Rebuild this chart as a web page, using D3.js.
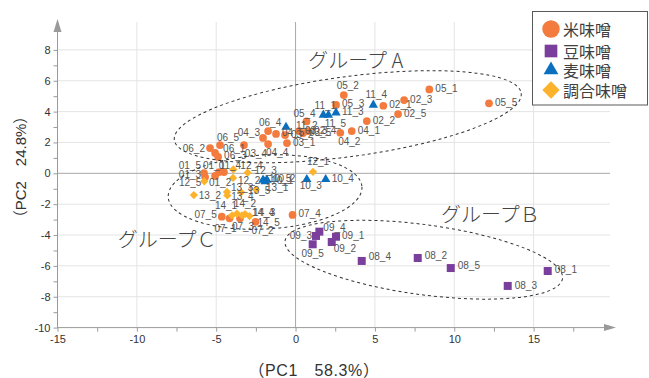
<!DOCTYPE html>
<html><head><meta charset="utf-8">
<script src="https://cdn.jsdelivr.net/npm/d3@7"></script>
<style>body{margin:0;background:#fff}svg{display:block}</style>
</head><body><svg id="c" width="649" height="378"></svg>
<script>
// ---- data ----
const categories = ["米味噌", "豆味噌", "麦味噌", "調合味噌"];
const rice = [
  ["01_1",-4.82,0.08],["01_2",-5.07,-0.17],["01_3",-5.70,-0.24],["01_4",-4.51,0.08],["01_5",-5.77,0.02],
  ["02_1",5.53,4.38],["02_2",4.49,3.39],["02_3",6.84,4.75],["02_4",0.79,2.74],["02_5",6.46,3.84],
  ["03_1",-0.54,1.96],["03_2",-0.66,2.48],["03_3",0.22,2.74],["03_4",-3.25,1.83],["03_5",0.47,2.61],
  ["04_1",3.54,2.74],["04_2",2.82,2.63],["04_3",-2.05,2.29],["04_4",-1.73,1.90],["04_5",-1.23,2.55],
  ["05_1",8.43,5.44],["05_2",3.04,5.07],["05_3",2.55,4.43],["05_4",0.69,3.36],["05_5",12.19,4.54],
  ["06_1",-5.07,1.32],["06_2",-5.39,1.64],["06_3",-4.88,1.06],["06_4",-1.73,2.74],["06_5",-4.76,1.83],
  ["07_1",-4.16,-2.92],["07_2",-2.52,-3.14],["07_3",-3.50,-2.92],["07_4",-0.19,-2.70],["07_5",-4.65,-2.81]
];
const soy = [
  ["08_1",15.89,-6.33],["08_2",7.70,-5.49],["08_3",13.37,-7.30],["08_4",4.17,-5.68],["08_5",9.78,-6.14],
  ["09_1",2.55,-4.11],["09_2",2.28,-4.45],["09_3",1.29,-4.06],["09_4",1.50,-3.78],["09_5",1.08,-4.60]
];
const barley = [
  ["10_1",-1.92,-0.53],["10_2",-1.80,-0.43],["10_3",0.71,-0.39],["10_4",1.90,-0.39],["10_5",-2.05,-0.43],
  ["11_1",1.75,3.78],["11_2",-0.60,3.00],["11_3",2.55,3.93],["11_4",4.90,4.43],["11_5",2.07,3.78]
];
const mixed = [
  ["12_1",1.10,0.10],["12_2",-3.94,-0.30],["12_3",-3.02,0.04],["12_4",-3.92,0.25],["12_5",-5.75,-0.52],
  ["13_1",-2.49,-1.05],["13_2",-6.41,-1.41],["13_3",-4.32,-1.21],["13_4",-4.30,-1.43],["13_5",-3.43,-1.23],
  ["14_1",-4.00,-2.73],["14_2",-3.69,-2.61],["14_3",-3.18,-2.64],["14_4",-3.37,-2.73],["14_5",-2.90,-2.77]
];
const xTickLabels = [-15,-10,-5,0,5,10,15];
const yTickLabels = [-10,-8,-6,-4,-2,0,2,4,6,8];
const xTitle = "（PC1　58.3%）";
const yTitle = "（PC2　24.8%）";
const groupNames = ["グループ A", "グループＢ", "グループＣ"];
// group ellipse centres (PC1, PC2) and group label anchors (PC1, PC2)
const groupCenters = [[3.29,3.67],[8.08,-5.60],[-1.92,-1.21]];
const groupLabelAt = [[0.8,7.3],[9.17,-2.7],[-11.2,-4.32]];

// ---- layout (pixels) ----
const ellipseShape = [[175,40,-7.7],[140,35,7.7],[97,37,-3]]; // rx, ry, angle
const labelOffset = {
  "05_2":[4,-10,"middle"],"04_2":[9,9,"middle"],"11_4":[3,-10,"middle"],"11_1":[2,-10,"middle"],
  "11_5":[7,8,"middle"],"05_4":[-2,-8,"middle"],"11_2":[10,-2,"start"],"06_4":[2,-9,"middle"],
  "04_3":[-3,-5,"end"],"03_4":[12,8,"middle"],"04_4":[9,8,"middle"],"06_5":[8,-8,"middle"],
  "06_2":[-5,0,"end"],"06_1":[8,-4,"start"],"01_5":[-3,-8,"end"],"01_3":[-4,-3,"end"],
  "01_1":[-5,-7,"middle"],"01_4":[6,-7,"middle"],"01_2":[5,7,"middle"],"12_5":[-3,1,"end"],
  "12_4":[7,-4,"start"],"12_3":[7,-2,"start"],"12_2":[5,3,"start"],"12_1":[5,-10,"middle"],
  "10_3":[4,6,"middle"],"13_2":[5,0,"start"],"13_3":[4,-4,"start"],"13_4":[4,1,"start"],
  "13_5":[7,-2,"start"],"13_1":[10,-2,"start"],"14_1":[-6,-10,"middle"],"14_2":[8,-10,"middle"],
  "14_4":[10,-3,"start"],"14_3":[8,-2,"start"],"14_5":[8,6,"start"],"07_5":[-5,-2,"end"],
  "07_1":[-4,10,"middle"],"07_3":[3,8,"middle"],"07_2":[7,9,"middle"],"09_4":[4,-4,"start"],
  "09_3":[-4,0,"end"],"09_2":[2,6.5,"start"],"09_5":[0,9,"middle"],"08_1":[7,-1,"start"],
  "08_2":[7,-3,"start"],"08_4":[7,-4,"start"],"08_5":[7,-3,"start"],"08_3":[7,0,"start"]
};
const colors = ["#F47B3E","#7A3F9D","#0A6FBE","#FDB22B"];

const svg = d3.select("#c");
const x = d3.scaleLinear().domain([-15,15]).range([57.5,533.6]);
const y = d3.scaleLinear().domain([-10,8]).range([327.6,49.9]);
const xRight = 610, yTop = 22;
const gridC = "#e4e4e4", axC = "#9a9a9a";

// grid
svg.append("g").selectAll("line").data(d3.range(-8,9,2).filter(v=>v!==0)).join("line")
  .attr("x1",x(-15)).attr("x2",xRight).attr("y1",d=>y(d)).attr("y2",d=>y(d))
  .attr("stroke",gridC).attr("stroke-width",1);
svg.append("g").selectAll("line").data([-10,-5,5,10,15]).join("line")
  .attr("y1",y(-10)).attr("y2",yTop).attr("x1",d=>x(d)).attr("x2",d=>x(d))
  .attr("stroke",gridC).attr("stroke-width",1);
// zero lines
svg.append("line").attr("x1",x(-15)).attr("x2",xRight).attr("y1",y(0)).attr("y2",y(0)).attr("stroke","#a8a8a8");
svg.append("line").attr("x1",x(0)).attr("x2",x(0)).attr("y1",y(-10)).attr("y2",yTop).attr("stroke","#a8a8a8");

// axes
const fmtX = d => xTickLabels.includes(d) ? String(d) : "";
const fmtY = d => yTickLabels.includes(d) ? String(d) : "";
const gx = svg.append("g").attr("transform",`translate(0,${y(-10)})`)
  .call(d3.axisBottom(x).tickValues(d3.range(-15,17.6,2.5)).tickFormat(fmtX).tickSize(4).tickPadding(4));
const gy = svg.append("g").attr("transform",`translate(${x(-15)},0)`)
  .call(d3.axisLeft(y).tickValues(d3.range(-10,8.1,1)).tickFormat(fmtY).tickSize(4).tickPadding(3));
[gx,gy].forEach(g=>{
  g.select(".domain").remove();
  g.selectAll(".tick line").attr("stroke",axC);
  g.selectAll(".tick text").attr("fill","#333").style("font-family","'Liberation Sans',Arial,sans-serif").style("font-size","11px");
});
svg.append("line").attr("x1",x(-15)).attr("x2",xRight).attr("y1",y(-10)).attr("y2",y(-10)).attr("stroke",axC);
svg.append("line").attr("x1",x(-15)).attr("x2",x(-15)).attr("y1",y(-10)+0.5).attr("y2",yTop+6).attr("stroke",axC);
svg.append("path").attr("d",`M${xRight-6},${y(-10)-3.5}L${xRight+6},${y(-10)}L${xRight-6},${y(-10)+3.5}Z`).attr("fill",axC);
svg.append("path").attr("d",`M${x(-15)-4},${yTop+10}L${x(-15)},${yTop-3}L${x(-15)+4},${yTop+10}Z`).attr("fill",axC);

// axis titles
svg.append("text").attr("x",314).attr("y",376).attr("text-anchor","middle")
  .style("font-family","'Liberation Sans','Noto Sans CJK JP',sans-serif").style("font-size","16px").style("letter-spacing","0.6px")
  .attr("fill","#333").text(xTitle);
svg.append("text").attr("transform","translate(20,167) rotate(-90)").attr("text-anchor","middle").attr("dominant-baseline","central")
  .style("font-family","'Liberation Sans','Noto Sans CJK JP',sans-serif").style("font-size","15px").attr("fill","#333").text(yTitle);

// symbols
const diamondType = {draw(ctx,size){const r=Math.sqrt(size/2);ctx.moveTo(0,-r);ctx.lineTo(r,0);ctx.lineTo(0,r);ctx.lineTo(-r,0);ctx.closePath();}};
const symTypes = [d3.symbolCircle, d3.symbolSquare, d3.symbolTriangle, diamondType];
const symSize = [47, 64, 38, 34];
const series = [rice, soy, barley, mixed];

series.forEach((s,i)=>{
  svg.append("g").selectAll("path").data(s).join("path")
    .attr("transform",d=>`translate(${x(d[1])},${y(d[2])})`)
    .attr("d",d3.symbol(symTypes[i],symSize[i])).attr("fill",colors[i]);
});
// point labels
const allPts = [].concat(...series);
svg.append("g").selectAll("text").data(allPts).join("text")
  .each(function(d){
    const o = labelOffset[d[0]] || [6,-1,"start"];
    d3.select(this).attr("x",x(d[1])+o[0]).attr("y",y(d[2])+o[1]).attr("text-anchor",o[2]||"start");
  })
  .attr("dy","0.35em").style("font-family","'Liberation Sans',Arial,sans-serif").style("font-size","10px")
  .attr("fill","#555").text(d=>d[0]);

// group ellipses
groupCenters.forEach((c,i)=>{
  const [rx,ry,ang] = ellipseShape[i];
  svg.append("ellipse").attr("cx",0).attr("cy",0).attr("rx",rx).attr("ry",ry)
    .attr("transform",`translate(${x(c[0])},${y(c[1])}) rotate(${ang})`)
    .attr("fill","none").attr("stroke","#333").attr("stroke-width",1).attr("stroke-dasharray","3,3");
  svg.append("text").attr("x",x(groupLabelAt[i][0])).attr("y",y(groupLabelAt[i][1])).attr("dy","0.35em")
    .style("font-family","'Noto Sans CJK JP',sans-serif").style("font-size","20px").style("font-weight","300")
    .attr("fill","#444").text(groupNames[i]);
});

// legend
const lg = svg.append("g");
lg.append("rect").attr("x",532.5).attr("y",11.5).attr("width",115).attr("height",93.5)
  .attr("fill","#fff").attr("stroke","#595959").attr("stroke-width",1);
const legY = [29,51,70,90];
const legSize = [240,160,95,150];
categories.forEach((c,i)=>{
  lg.append("path").attr("transform",`translate(551,${legY[i]})`).attr("d",d3.symbol(symTypes[i],legSize[i])).attr("fill",colors[i]);
  lg.append("text").attr("x",563).attr("y",legY[i]+1).attr("dy","0.35em")
    .style("font-family","'Noto Sans CJK JP',sans-serif").style("font-size","16px").attr("fill","#404040").text(c);
});
</script></body></html>
